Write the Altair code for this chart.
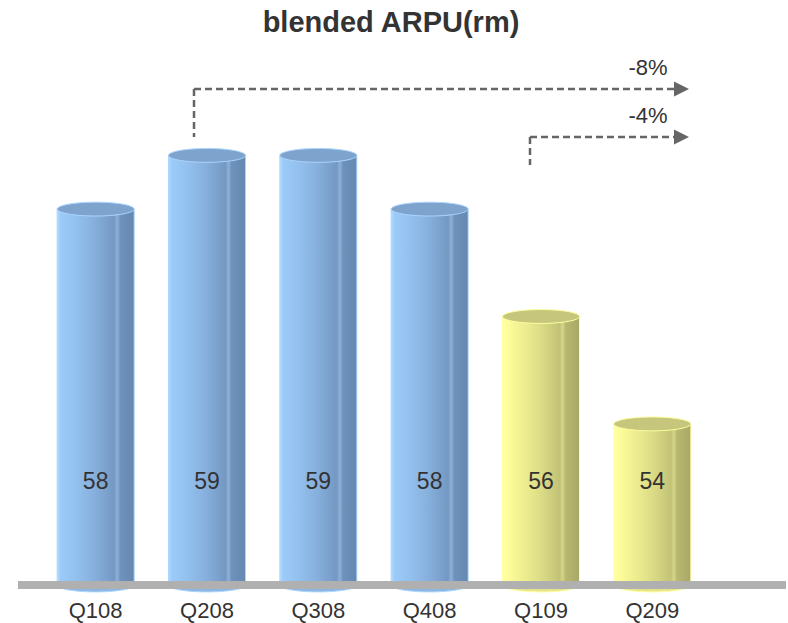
import altair as alt
import pandas as pd

# Quarterly blended ARPU (RM)
quarters = ["Q108", "Q208", "Q308", "Q408", "Q109", "Q209"]
arpu = [58, 59, 59, 58, 56, 54]
years = ["2008", "2008", "2008", "2008", "2009", "2009"]

# Change annotations
growth_labels = ["-8%", "-4%"]

df = pd.DataFrame({"quarter": quarters, "arpu": arpu, "year": years})

Y_MIN, Y_MAX = 51, 61
W, H = 668, 537
BAR_W = 77

FONT = "Liberation Sans"
TEXT_COLOR = "#333333"
ARROW_COLOR = "#666666"


def gradient(stops):
    return alt.LinearGradient(
        gradient="linear",
        x1=0, x2=1, y1=0, y2=0,
        stops=[alt.GradientStop(color=c, offset=o) for o, c in stops],
    )


BLUE_BODY = gradient([
    (0.0, "#b4dcff"), (0.04, "#9ccbfa"), (0.25, "#93c0ee"), (0.5, "#86aedb"),
    (0.74, "#7398c2"), (0.78, "#8db2da"), (0.82, "#6e92bb"), (1.0, "#6688b0"),
])
YELLOW_BODY = gradient([
    (0.0, "#ffffb0"), (0.04, "#ffff9c"), (0.25, "#f0f092"), (0.5, "#dcdc86"),
    (0.74, "#c2c277"), (0.78, "#d6d688"), (0.82, "#b8b872"), (1.0, "#a8a866"),
])
STYLES = {
    "2008": dict(body=BLUE_BODY, base="#8db6e2", top="#7ea3cc", edge="#acd6ff"),
    "2009": dict(body=YELLOW_BODY, base="#e4e48c", top="#c6c67c", edge="#ffffa0"),
}


def ellipse_path(k):
    """Flat ellipse in the -1..1 unit box, built from four cubic curves."""
    c = 0.5523
    f = lambda v: f"{v:.4f}"
    return (
        f"M -1 0 C -1 {f(-c*k)} {f(-c)} {f(-k)} 0 {f(-k)} "
        f"C {f(c)} {f(-k)} 1 {f(-c*k)} 1 0 "
        f"C 1 {f(c*k)} {f(c)} {f(k)} 0 {f(k)} "
        f"C {f(-c)} {f(k)} -1 {f(c*k)} -1 0 Z"
    )


ELLIPSE = ellipse_path(0.18)
TRIANGLE = "M -1 -1 L 1 0 L -1 1 Z"

x_enc = alt.X(
    "quarter:N",
    sort=quarters,
    scale=alt.Scale(paddingInner=0, paddingOuter=0),
    axis=alt.Axis(
        title=None, ticks=False, domain=False, grid=False, labelAngle=0,
        labelFont=FONT, labelFontSize=22, labelColor=TEXT_COLOR, labelPadding=15,
    ),
)
y_scale = alt.Scale(domain=[Y_MIN, Y_MAX], zero=False, nice=False)


def y_enc(field):
    return alt.Y(field, scale=y_scale, axis=None)


base = alt.Chart(df)
layers = []

for yr, st in STYLES.items():
    part = base.transform_filter(alt.datum.year == yr).transform_calculate(base=str(Y_MIN))
    edge = dict(stroke=st["edge"], strokeWidth=1)
    # rounded bottom of the cylinder
    layers.append(
        part.mark_point(shape=ELLIPSE, size=BAR_W ** 2, filled=True,
                        color=st["base"], opacity=1, **edge)
        .encode(x=x_enc, y=y_enc("base:Q"))
    )
    # cylinder body
    layers.append(
        part.mark_bar(size=BAR_W, color=st["body"], **edge)
        .encode(x=x_enc, y=y_enc("arpu:Q"), y2=alt.Y2("base:Q"))
    )
    # top cap
    layers.append(
        part.mark_point(shape=ELLIPSE, size=BAR_W ** 2, filled=True,
                        color=st["top"], opacity=1, **edge)
        .encode(x=x_enc, y=y_enc("arpu:Q"))
    )

# grey floor line along the bottom of the plot
layers.append(
    base.mark_rule(color="#b0b0b0", strokeWidth=7).encode(
        x=alt.value(-22), x2=alt.value(746), y=alt.value(H)
    )
)

# value labels inside the cylinders
layers.append(
    base.mark_text(font=FONT, fontSize=23, color=TEXT_COLOR, baseline="middle")
    .encode(x=x_enc, y=alt.value(434), text=alt.Text("arpu:Q"))
)

# dashed change arrows: (start x, line y, foot y)
arrow_geom = [(154, 41, 89), (490, 89, 117)]
HEAD_X = 641.5
LINE_END = 634
for label, (xs, yl, yf) in zip(growth_labels, arrow_geom):
    a = alt.Chart(pd.DataFrame({"label": [label]}))
    dash = dict(color=ARROW_COLOR, strokeWidth=2.5, strokeDash=[7, 4])
    layers.append(a.mark_rule(**dash).encode(
        x=alt.value(xs), y=alt.value(yl), y2=alt.value(yf)))
    layers.append(a.mark_rule(**dash).encode(
        x=alt.value(xs), x2=alt.value(LINE_END), y=alt.value(yl)))
    layers.append(a.mark_point(shape=TRIANGLE, size=225, filled=True,
                               color=ARROW_COLOR, opacity=1).encode(
        x=alt.value(HEAD_X), y=alt.value(yl)))
    layers.append(a.mark_text(font=FONT, fontSize=22, color=TEXT_COLOR,
                              baseline="middle").encode(
        x=alt.value(608), y=alt.value(yl - 21), text=alt.Text("label:N")))

chart = (
    alt.layer(*layers)
    .properties(
        width=W,
        height=H,
        title=alt.TitleParams(
            text="blended ARPU(rm)", font=FONT, fontSize=29, fontWeight="bold",
            color=TEXT_COLOR, anchor="middle", dx=17, offset=10,
        ),
        autosize=alt.AutoSizeParams(type="none"),
        padding={"left": 40, "top": 48, "right": 80, "bottom": 38},
    )
    .configure_view(stroke=None)
)

chart.save("out.html", embed_options={"renderer": "svg", "actions": False})
